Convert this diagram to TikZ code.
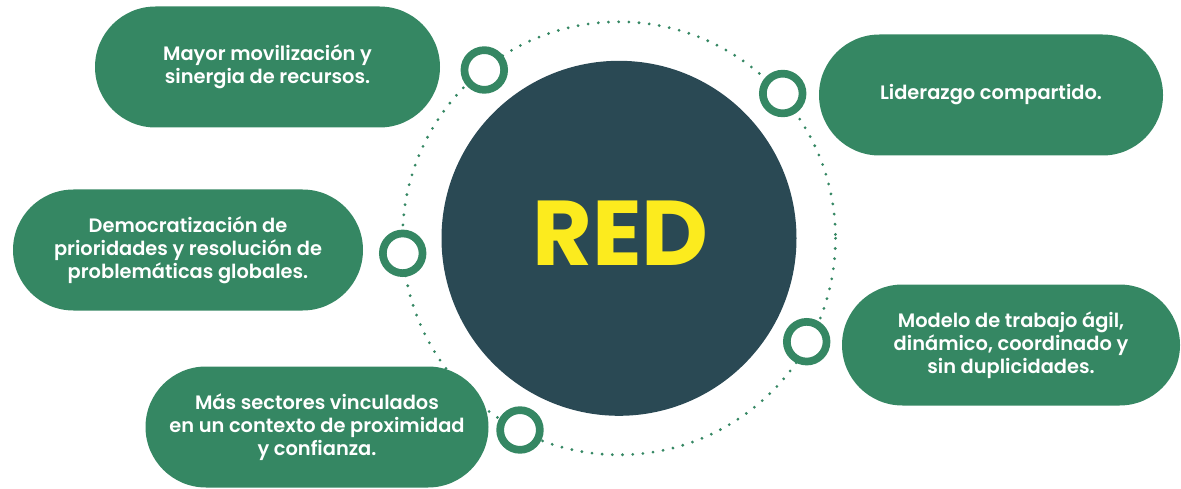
\documentclass[tikz,border=0pt]{standalone}
\usepackage{fontspec}
\setmainfont{Poppins}
\newfontfamily\pillfont{Poppins}[UprightFont={* SemiBold}, BoldFont={* Bold}]
\usetikzlibrary{shapes.misc}
\definecolor{pillgreen}{RGB}{53,135,99}
\definecolor{darkcore}{RGB}{42,73,84}
\definecolor{redyellow}{RGB}{252,235,30}
\tikzset{
  pill/.style={rounded rectangle, fill=pillgreen, draw=none, minimum width=345pt, minimum height=121pt, inner sep=0pt, text=white, align=center, font=\pillfont\fontsize{19.4}{22.8}\selectfont},
  ring/.style={circle, draw=pillgreen, fill=white, line width=7.7pt, minimum size=39.7pt, inner sep=0pt},
  dots/.style={draw=pillgreen, line width=3.1pt, line cap=round, dash pattern=on 0pt off 10.2pt}
}
\begin{document}
\begin{tikzpicture}[x=1pt,y=-1pt]
\useasboundingbox (0,0) rectangle (1181,489);
\coordinate (hub) at (619,238.3);
\draw[dots] (hub) circle (216.5);
\node[circle, fill=darkcore, minimum size=355pt, inner sep=0pt] (core) at (hub) {};
\node[text=redyellow, font=\fontsize{92}{92}\selectfont\bfseries, inner sep=0pt] (corelbl) at (620.5,233) {RED};
\node[pill] (p1) at (267.5,67) {Mayor movilización y\\sinergia de recursos.};
\node[pill, minimum width=344pt] (p2) at (991,95) {Liderazgo compartido.};
\node[pill, minimum width=350pt] (p3) at (188,250) {Democratización de\\prioridades y resolución de\\problemáticas globales.};
\node[pill, minimum width=343pt] (p4) at (317,427) {Más sectores vinculados\\en un contexto de proximidad\\y confianza.};
\node[pill, minimum width=338pt] (p5) at (1011,345) {Modelo de trabajo ágil,\\dinámico, coordinado y\\sin duplicidades.};
\node[ring] (r1) at (484.3,70) {};
\node[ring] (r2) at (782.7,93.5) {};
\node[ring] (r3) at (402.7,253.3) {};
\node[ring] (r4) at (806.7,341.7) {};
\node[ring] (r5) at (520,430) {};
\end{tikzpicture}
\end{document}
